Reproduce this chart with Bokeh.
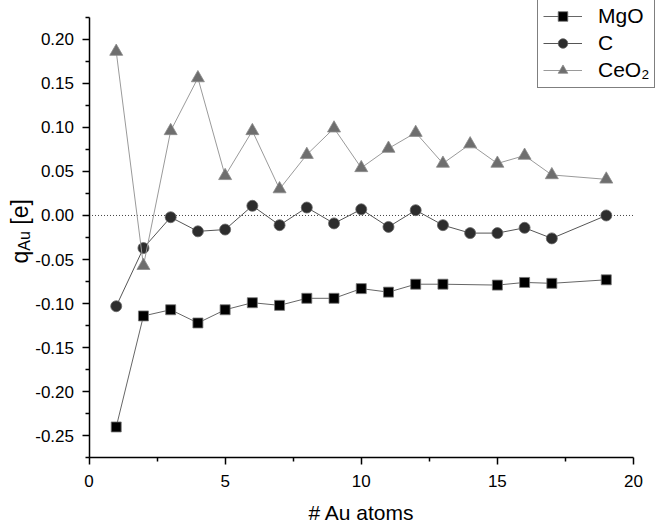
import numpy as np
from bokeh.plotting import figure
from bokeh.models import (FixedTicker, NumeralTickFormatter, Legend,
                          LegendItem, Label, Range1d)
from bokeh.embed import file_html
from bokeh.resources import INLINE

# ---- data ----
n_mgo = [1, 2, 3, 4, 5, 6, 7, 8, 9, 10, 11, 12, 13, 15, 16, 17, 19]
q_mgo = [-0.240, -0.114, -0.107, -0.122, -0.107, -0.099, -0.102, -0.094, -0.094,
         -0.083, -0.087, -0.078, -0.078, -0.079, -0.076, -0.077, -0.073]

n_c = [1, 2, 3, 4, 5, 6, 7, 8, 9, 10, 11, 12, 13, 14, 15, 16, 17, 19]
q_c = [-0.103, -0.037, -0.002, -0.018, -0.016, 0.011, -0.011, 0.009, -0.009,
       0.007, -0.013, 0.006, -0.011, -0.020, -0.020, -0.014, -0.026, 0.000]

n_ceo2 = [1, 2, 3, 4, 5, 6, 7, 8, 9, 10, 11, 12, 13, 14, 15, 16, 17, 19]
q_ceo2 = [0.186, -0.057, 0.096, 0.156, 0.045, 0.096, 0.030, 0.069, 0.099,
          0.054, 0.076, 0.094, 0.059, 0.081, 0.059, 0.068, 0.046, 0.041]

x_ticks = [0, 5, 10, 15, 20]
x_minor = [2.5, 7.5, 12.5, 17.5]
y_ticks = [-0.25, -0.20, -0.15, -0.10, -0.05, 0.0, 0.05, 0.10, 0.15, 0.20]
y_minor = [-0.275, -0.225, -0.175, -0.125, -0.075, -0.025, 0.025, 0.075, 0.125, 0.175, 0.225]
x_axis_lo, x_axis_hi = 0, 20
y_axis_lo, y_axis_hi = -0.275, 0.225

FONT = "Liberation Sans"
W, H = 658, 523
# pixel placement of the axis box inside the canvas
PX_L, PX_R, PX_T, PX_B = 88.5, 633.0, 16.7, 457.3
sx = (PX_R - PX_L) / (x_axis_hi - x_axis_lo)
sy = (PX_B - PX_T) / (y_axis_hi - y_axis_lo)
x_range = Range1d(x_axis_lo - PX_L / sx, x_axis_hi + (W - PX_R) / sx)
y_range = Range1d(y_axis_lo - (H - PX_B) / sy, y_axis_hi + PX_T / sy)

p = figure(width=W, height=H, output_backend="svg", toolbar_location=None,
           x_range=x_range, y_range=y_range,
           min_border=0, min_border_left=0, min_border_right=0,
           min_border_top=0, min_border_bottom=0)
p.outline_line_color = None
p.xgrid.visible = False
p.ygrid.visible = False
p.background_fill_color = "white"
p.border_fill_color = "white"

# zero reference line across the axis box
p.segment(x0=[x_axis_lo], x1=[x_axis_hi], y0=[0], y1=[0],
          line_color="#444444", line_width=1, line_dash="1 2")

l_mgo = p.line(n_mgo, q_mgo, line_color="#666666", line_width=1)
s_mgo = p.scatter(n_mgo, q_mgo, marker="square", size=10, fill_color="#000000",
                  line_color="#777777", line_width=0.8)
l_c = p.line(n_c, q_c, line_color="#555555", line_width=1)
s_c = p.scatter(n_c, q_c, marker="circle", size=11, fill_color="#2d2d2d",
                line_color="#666666", line_width=0.8)
l_ce = p.line(n_ceo2, q_ceo2, line_color="#9a9a9a", line_width=1)
s_ce = p.scatter(n_ceo2, q_ceo2, marker="triangle", size=13, fill_color="#6e6e6e",
                 line_color="#8a8a8a", line_width=0.8)

# axes, pinned at the axis-box edges
xa = p.xaxis[0]
ya = p.yaxis[0]
xa.fixed_location = y_axis_lo
xa.bounds = (x_axis_lo, x_axis_hi)
ya.fixed_location = x_axis_lo
ya.bounds = (y_axis_lo, y_axis_hi)
for ax in (xa, ya):
    ax.axis_line_color = "black"
    ax.axis_line_width = 1.5
    ax.major_tick_line_color = "black"
    ax.major_tick_line_width = 1.5
    ax.minor_tick_line_color = "black"
    ax.minor_tick_line_width = 1.5
    ax.major_tick_in = 0
    ax.major_tick_out = 7
    ax.minor_tick_in = 0
    ax.minor_tick_out = 4
    ax.major_label_text_font = FONT
    ax.major_label_text_font_size = "17px"
    ax.major_label_text_color = "black"

xa.ticker = FixedTicker(ticks=x_ticks, minor_ticks=x_minor)
ya.ticker = FixedTicker(ticks=y_ticks, minor_ticks=y_minor)
ya.formatter = NumeralTickFormatter(format="0.00")
xa.major_label_standoff = 10
ya.major_label_standoff = 8

xa.axis_label = "# Au atoms"
xa.axis_label_text_font = FONT
xa.axis_label_text_font_size = "21px"
xa.axis_label_text_font_style = "normal"
xa.axis_label_text_color = "black"
xa.axis_label_standoff = 11

# y-axis label q_Au [e] built from pieces (subscript)
ang = np.pi / 2
lab_kw = dict(x_units="screen", y_units="screen", angle=ang,
              text_font=FONT, text_color="black",
              text_baseline="alphabetic", text_align="left")
p.add_layout(Label(x=19.6, y=260, text="q", text_font_size="23px", **lab_kw))
p.add_layout(Label(x=24.3, y=272.8, text="Au", text_font_size="16px", **lab_kw))
p.add_layout(Label(x=19.6, y=298.8, text="[e]", text_font_size="23px", **lab_kw))

legend = Legend(items=[
    LegendItem(label="MgO", renderers=[l_mgo, s_mgo]),
    LegendItem(label="C", renderers=[l_c, s_c]),
    LegendItem(label="CeO\u2082", renderers=[l_ce, s_ce]),
], location=(537, 435))
legend.border_line_color = "black"
legend.border_line_width = 1
legend.background_fill_color = "white"
legend.background_fill_alpha = 1
legend.label_text_font = FONT
legend.label_text_font_size = "21px"
legend.label_text_color = "black"
legend.glyph_width = 39
legend.glyph_height = 24
legend.label_height = 24
legend.spacing = 3
legend.padding = 5
legend.margin = 0
legend.label_standoff = 16
p.add_layout(legend)

open("out.html", "w").write(file_html(p, INLINE))
